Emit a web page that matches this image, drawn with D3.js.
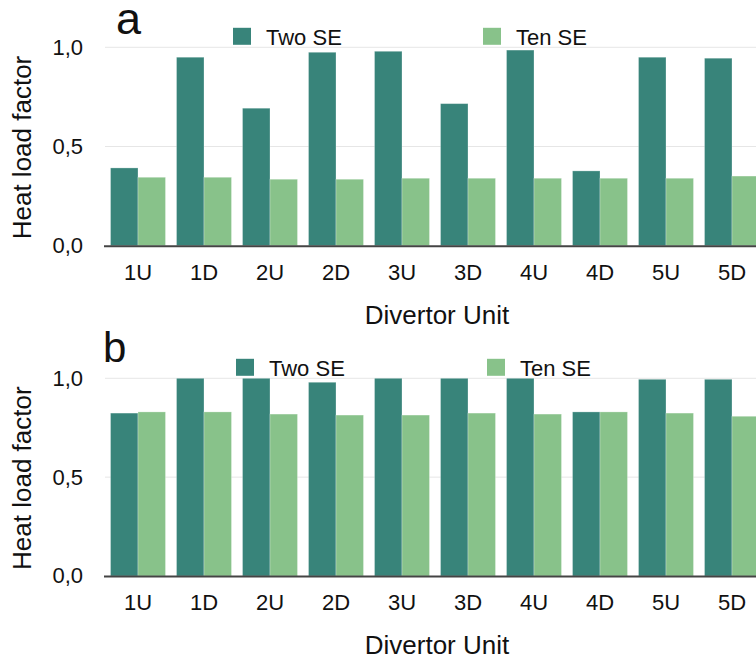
<!DOCTYPE html>
<html>
<head>
<meta charset="utf-8">
<script src="https://cdn.jsdelivr.net/npm/d3@7"></script>
<style>
  html, body { margin: 0; padding: 0; background: #fff; overflow: hidden; }
  svg { display: block; font-family: "Liberation Sans", Arial, Helvetica, sans-serif; }
</style>
</head>
<body>
<svg id="chart" width="756" height="663"></svg>
<script>
// Divertor units along the x axis
const units = ["1U", "1D", "2U", "2D", "3U", "3D", "4U", "4D", "5U", "5D"];
const seriesNames = ["Two SE", "Ten SE"];
const yTicks = [0, 0.5, 1.0];

// Panel a: heat load factor per divertor unit
const twoSE_a = [0.392, 0.950, 0.693, 0.975, 0.980, 0.716, 0.986, 0.377, 0.950, 0.945];
const tenSE_a = [0.345, 0.345, 0.335, 0.335, 0.340, 0.340, 0.340, 0.340, 0.340, 0.351];

// Panel b: heat load factor per divertor unit
const twoSE_b = [0.824, 1.000, 1.000, 0.980, 1.000, 1.000, 1.000, 0.830, 0.995, 0.995];
const tenSE_b = [0.830, 0.830, 0.819, 0.814, 0.814, 0.824, 0.819, 0.830, 0.824, 0.808];

const colors = { "Two SE": "#38847a", "Ten SE": "#88c28a" };

const svg = d3.select("#chart");
const fmt = d => d3.format(".1f")(d).replace(".", ",");

function panel(cfg) {
  const { letter, letterX, letterY, letterSize, y0, y1, two, ten, legendX } = cfg;
  const g = svg.append("g");

  const x = d3.scaleBand().domain(units).range([105, 765])
    .paddingInner(0.167).paddingOuter(0.0835);
  const xs = d3.scaleBand().domain(seriesNames).range([0, x.bandwidth()]).padding(0);
  const y = d3.scaleLinear().domain([0, 1]).range([y0, y1]);

  // horizontal gridlines
  g.selectAll("line.grid").data(yTicks.filter(t => t > 0)).join("line")
    .attr("class", "grid")
    .attr("x1", 105).attr("x2", 756)
    .attr("y1", d => y(d)).attr("y2", d => y(d))
    .attr("stroke", "#e6e6e6").attr("stroke-width", 1);

  const rows = units.map((u, i) => ({ unit: u, values: [
    { key: "Two SE", value: two[i] },
    { key: "Ten SE", value: ten[i] }
  ]}));

  const groups = g.selectAll("g.unit").data(rows).join("g")
    .attr("class", "unit")
    .attr("transform", d => `translate(${x(d.unit)},0)`);

  groups.selectAll("rect").data(d => d.values).join("rect")
    .attr("x", d => xs(d.key))
    .attr("width", xs.bandwidth())
    .attr("y", d => y(d.value))
    .attr("height", d => y(0) - y(d.value))
    .attr("fill", d => colors[d.key])
    .attr("stroke", "rgba(255,255,255,0.35)")
    .attr("stroke-width", 0.8);

  // baseline
  g.append("line")
    .attr("x1", 104).attr("x2", 756)
    .attr("y1", y(0) + 0.5).attr("y2", y(0) + 0.5)
    .attr("stroke", "#444").attr("stroke-width", 2);

  // y tick labels
  g.selectAll("text.ytick").data(yTicks).join("text")
    .attr("class", "ytick")
    .attr("x", 83).attr("y", d => y(d))
    .attr("dy", "0.34em")
    .attr("text-anchor", "end")
    .attr("font-size", 22).attr("fill", "#111")
    .text(fmt);

  // x tick labels
  g.selectAll("text.xtick").data(units).join("text")
    .attr("class", "xtick")
    .attr("x", d => x(d) + x.bandwidth() / 2)
    .attr("y", y(0) + 34)
    .attr("text-anchor", "middle")
    .attr("font-size", 22).attr("fill", "#111")
    .text(d => d);

  // axis titles
  g.append("text")
    .attr("x", 437).attr("y", y(0) + 78)
    .attr("text-anchor", "middle")
    .attr("font-size", 26).attr("fill", "#111")
    .text("Divertor Unit");

  g.append("text")
    .attr("transform", `translate(31,${(y(0) + y(1)) / 2 + 1}) rotate(-90)`)
    .attr("text-anchor", "middle")
    .attr("font-size", 26).attr("fill", "#111")
    .text("Heat load factor");

  // panel letter
  g.append("text")
    .attr("x", letterX).attr("y", letterY)
    .attr("font-size", letterSize).attr("fill", "#111")
    .text(letter);

  // legend
  seriesNames.forEach((name, i) => {
    const lx = legendX[i];
    const base = y(1) - 2.5;
    g.append("rect")
      .attr("x", lx).attr("y", base - 17)
      .attr("width", 18).attr("height", 17)
      .attr("fill", colors[name]);
    g.append("text")
      .attr("x", lx + 33).attr("y", base)
      .attr("font-size", 22).attr("fill", "#111")
      .text(name);
  });
}

panel({ letter: "a", letterX: 116, letterY: 34, letterSize: 45,
        y0: 245.7, y1: 47.3, two: twoSE_a, ten: tenSE_a, legendX: [233, 483] });
panel({ letter: "b", letterX: 103, letterY: 362, letterSize: 42,
        y0: 576, y1: 378.3, two: twoSE_b, ten: tenSE_b, legendX: [236, 487] });
</script>
</body>
</html>
